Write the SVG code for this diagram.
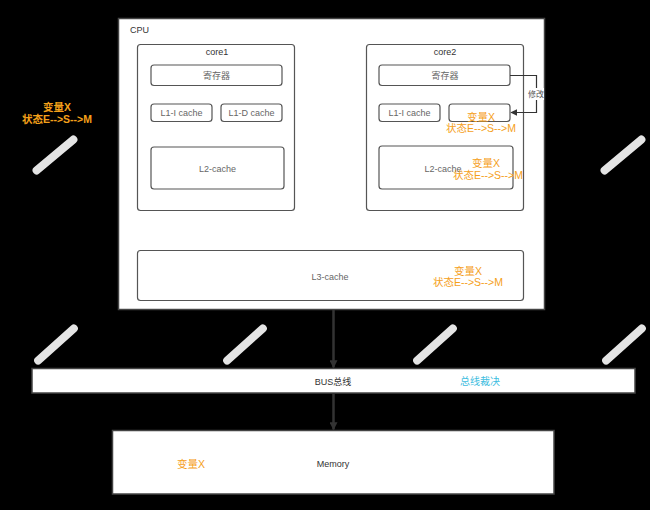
<svg xmlns="http://www.w3.org/2000/svg" width="650" height="510" viewBox="0 0 650 510">
  <defs>
    <style>
      text { font-family: "Liberation Sans", "Noto Sans CJK SC", sans-serif; dominant-baseline: central; text-anchor: middle; }
      .box { fill: #ffffff; stroke: #444444; stroke-width: 1.5; }
      .inner { fill: #ffffff; stroke: #555555; stroke-width: 1.2; }
      .lbl { font-size: 9px; fill: #333333; }
      .sub { font-size: 9px; fill: #666666; }
      .var { font-size: 10.5px; fill: #f5a01a; }
      .arb { font-size: 10px; fill: #3dbde0; }
      .wm { fill: #e4e4e4; }
      .conn { fill: none; stroke: #333333; }
    </style>
    <marker id="ah" viewBox="0 0 10 10" refX="9" refY="5" markerWidth="3.2" markerHeight="3.2" orient="auto" markerUnits="strokeWidth">
      <path d="M0,0 L10,5 L0,10 z" fill="#333333"/>
    </marker>
    <marker id="ahs" viewBox="0 0 10 10" refX="9" refY="5" markerWidth="7" markerHeight="7" orient="auto" markerUnits="userSpaceOnUse">
      <path d="M0,0 L10,5 L0,10 z" fill="#333333"/>
    </marker>
  </defs>

  <rect x="0" y="0" width="650" height="510" fill="#000000"/>

  <g id="watermarks">
    <rect class="wm" x="27" y="151" width="56" height="8" rx="4" transform="rotate(-40 55 155)"/>
    <rect class="wm" x="595" y="151" width="56" height="8" rx="4" transform="rotate(-40 623 155)"/>
    <rect class="wm" x="28" y="340.5" width="56" height="8" rx="4" transform="rotate(-42 56 344.5)"/>
    <rect class="wm" x="217" y="340.5" width="56" height="8" rx="4" transform="rotate(-42 245 344.5)"/>
    <rect class="wm" x="407" y="340.5" width="56" height="8" rx="4" transform="rotate(-42 435 344.5)"/>
    <rect class="wm" x="596" y="340.5" width="56" height="8" rx="4" transform="rotate(-42 624 344.5)"/>
  </g>

  <g id="note-left">
    <text class="var" x="57" y="107" font-weight="bold">变量X</text>
    <text class="var" x="57" y="119" font-weight="bold">状态E--&gt;S--&gt;M</text>
  </g>

  <g id="cpu">
    <rect class="box" x="118.5" y="18.5" width="426" height="291"/>
    <text class="lbl" x="139.5" y="30">CPU</text>
  </g>

  <g id="core1">
    <rect class="inner" x="137.5" y="44.5" width="157" height="166" rx="3"/>
    <text class="lbl" x="217" y="51.5">core1</text>
    <g id="core1-reg">
      <rect class="inner" x="151" y="65" width="131" height="20.5" rx="3"/>
      <text class="sub" x="216.5" y="75.5">寄存器</text>
    </g>
    <g id="core1-l1i">
      <rect class="inner" x="151" y="104" width="61" height="17.5" rx="3"/>
      <text class="sub" x="181.5" y="113">L1-I cache</text>
    </g>
    <g id="core1-l1d">
      <rect class="inner" x="221" y="104" width="61" height="17.5" rx="3"/>
      <text class="sub" x="251.5" y="113">L1-D cache</text>
    </g>
    <g id="core1-l2">
      <rect class="inner" x="151" y="147" width="133" height="42" rx="3"/>
      <text class="sub" x="217.5" y="169">L2-cache</text>
    </g>
  </g>

  <g id="core2">
    <rect class="inner" x="366.5" y="44.5" width="157" height="166" rx="3"/>
    <text class="lbl" x="445" y="51.5">core2</text>
    <g id="core2-reg">
      <rect class="inner" x="379" y="65" width="131" height="20.5" rx="3"/>
      <text class="sub" x="445" y="75.5">寄存器</text>
    </g>
    <g id="core2-l1i">
      <rect class="inner" x="379" y="104" width="61" height="17.5" rx="3"/>
      <text class="sub" x="409.5" y="113">L1-I cache</text>
    </g>
    <g id="core2-l1d">
      <rect class="inner" x="449" y="104" width="61" height="17.5" rx="3"/>
      <text class="var" x="481" y="116.5">变量X</text>
      <text class="var" x="481" y="128">状态E--&gt;S--&gt;M</text>
    </g>
    <g id="core2-l2">
      <rect class="inner" x="379" y="146" width="134" height="43" rx="3"/>
      <text class="sub" x="443" y="169">L2-cache</text>
      <text class="var" x="486" y="162.5">变量X</text>
      <text class="var" x="488" y="174.5">状态E--&gt;S--&gt;M</text>
    </g>
  </g>

  <g id="l3">
    <rect class="inner" x="137.5" y="250.5" width="386" height="50" rx="3"/>
    <text class="sub" x="330" y="276.5">L3-cache</text>
    <text class="var" x="468" y="270.5">变量X</text>
    <text class="var" x="468" y="282">状态E--&gt;S--&gt;M</text>
  </g>

  <g id="bus">
    <rect class="box" x="32" y="368.5" width="603" height="24.5"/>
    <text class="lbl" x="333" y="381.5">BUS总线</text>
    <text class="arb" x="480" y="381.5">总线裁决</text>
  </g>

  <g id="memory">
    <rect class="box" x="112.5" y="430.5" width="441.5" height="63.5"/>
    <text class="var" x="191" y="463.5">变量X</text>
    <text class="lbl" x="333" y="463.5">Memory</text>
  </g>

  <g id="connectors">
    <line class="conn" x1="333.5" y1="310" x2="333.5" y2="367.5" stroke-width="2.5" marker-end="url(#ah)"/>
    <line class="conn" x1="333.5" y1="393.5" x2="333.5" y2="429.5" stroke-width="2.5" marker-end="url(#ah)"/>
    <path class="conn" d="M510,75.5 H536.5 V112.5 H511" stroke-width="1.2" marker-end="url(#ahs)"/>
    <rect x="528" y="88" width="16" height="12" fill="#ffffff"/>
    <text x="536" y="94" font-size="8px" fill="#555555">修改</text>
  </g>
</svg>
